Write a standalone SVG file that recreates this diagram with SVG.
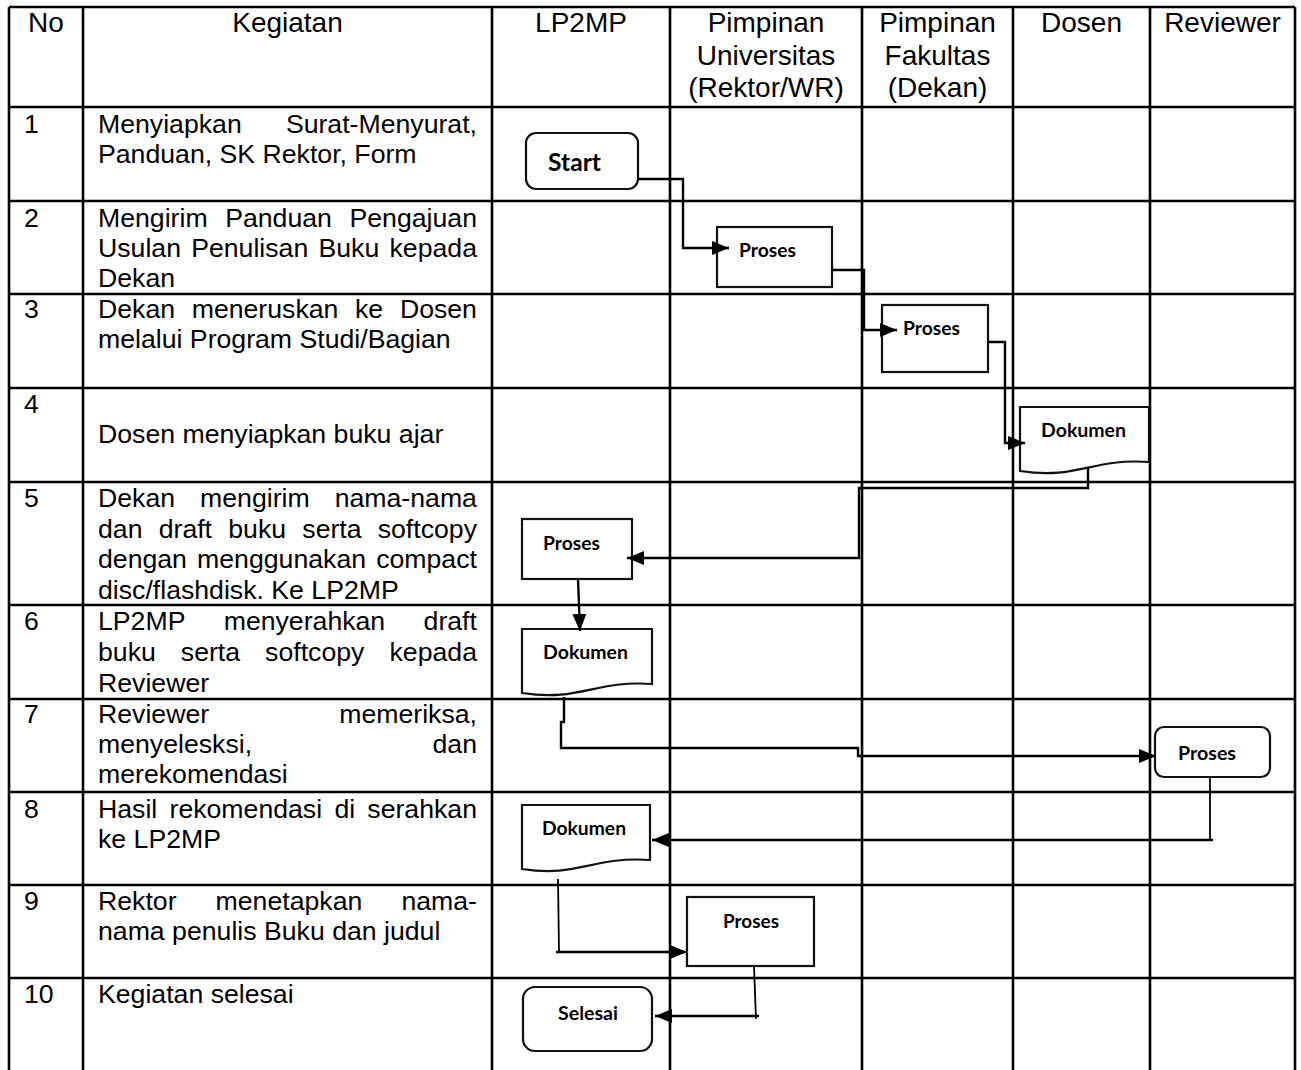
<svg xmlns="http://www.w3.org/2000/svg" width="1301" height="1070" viewBox="0 0 1301 1070">
<style>
.grid{stroke:#000;stroke-width:2.6;fill:none}
.hd{font-family:"Liberation Sans",Arial,sans-serif;font-size:28px;fill:#000;text-anchor:middle}
.tx{font-family:"Liberation Sans",Arial,sans-serif;font-size:26.67px;fill:#000}
.end{text-anchor:end}
.shape{fill:#fff;stroke:#111;stroke-width:2.2}
.lbl{font-family:Lato,"Open Sans",sans-serif;font-weight:bold;font-size:19.5px;fill:#000}
.conn{fill:none;stroke:#000;stroke-width:2.4}
</style>
<defs>
<marker id="arr" markerUnits="userSpaceOnUse" viewBox="0 0 17 14" markerWidth="17" markerHeight="14" refX="17" refY="7" orient="auto">
<path d="M0,0 L17,7 L0,14 z" fill="#000"/>
</marker>
</defs>
<rect width="1301" height="1070" fill="#fff"/>
<g id="table">
<path class="grid" d="M9,7 H1295 M9,107 H1295 M9,201 H1295 M9,294 H1295 M9,388 H1295 M9,482 H1295 M9,605 H1295 M9,699 H1295 M9,792 H1295 M9,885 H1295 M9,978 H1295"/>
<path class="grid" d="M9,7 V1070 M83,7 V1070 M492,7 V1070 M670,7 V1070 M862,7 V1070 M1013,7 V1070 M1150,7 V1070 M1295,7 V1070"/>
</g>
<g id="header">
<text class="hd" x="46" y="32">No</text>
<text class="hd" x="287.5" y="32">Kegiatan</text>
<text class="hd" x="581" y="32">LP2MP</text>
<text class="hd" x="766" y="32">Pimpinan</text>
<text class="hd" x="766" y="65">Universitas</text>
<text class="hd" x="766" y="97">(Rektor/WR)</text>
<text class="hd" x="937.5" y="32">Pimpinan</text>
<text class="hd" x="937.5" y="65">Fakultas</text>
<text class="hd" x="937.5" y="97">(Dekan)</text>
<text class="hd" x="1081.5" y="32">Dosen</text>
<text class="hd" x="1222.5" y="32">Reviewer</text>
</g>
<g id="numbers">
<text class="tx" x="24" y="133">1</text>
<text class="tx" x="24" y="227">2</text>
<text class="tx" x="24" y="318">3</text>
<text class="tx" x="24" y="413">4</text>
<text class="tx" x="24" y="507">5</text>
<text class="tx" x="24" y="630">6</text>
<text class="tx" x="24" y="723">7</text>
<text class="tx" x="24" y="818">8</text>
<text class="tx" x="24" y="910">9</text>
<text class="tx" x="24" y="1003">10</text>
</g>
<g id="activities">
<text class="tx" x="98" y="133">Menyiapkan</text>
<text class="tx end" x="477" y="133">Surat-Menyurat,</text>
<text class="tx" x="98" y="163">Panduan, SK Rektor, Form</text>
<text class="tx" y="227"><tspan x="98">Mengirim</tspan><tspan x="225.2">Panduan</tspan><tspan x="349.5">Pengajuan</tspan></text>
<text class="tx" y="257"><tspan x="98">Usulan</tspan><tspan x="191.2">Penulisan</tspan><tspan x="318.5">Buku</tspan><tspan x="389.5">kepada</tspan></text>
<text class="tx" x="98" y="287">Dekan</text>
<text class="tx" y="318"><tspan x="98">Dekan</tspan><tspan x="191.7">meneruskan</tspan><tspan x="355">ke</tspan><tspan x="399.9">Dosen</tspan></text>
<text class="tx" x="98" y="348">melalui Program Studi/Bagian</text>
<text class="tx" x="98" y="443">Dosen menyiapkan buku ajar</text>
<text class="tx" y="507"><tspan x="98">Dekan</tspan><tspan x="200.1">mengirim</tspan><tspan x="334.7">nama-nama</tspan></text>
<text class="tx" y="538"><tspan x="98">dan</tspan><tspan x="158.7">draft</tspan><tspan x="228.3">buku</tspan><tspan x="302.3">serta</tspan><tspan x="377.7">softcopy</tspan></text>
<text class="tx" y="568"><tspan x="98">dengan</tspan><tspan x="197.1">menggunakan</tspan><tspan x="376.2">compact</tspan></text>
<text class="tx" x="98" y="599">disc/flashdisk. Ke LP2MP</text>
<text class="tx" y="630"><tspan x="98">LP2MP</tspan><tspan x="223.7">menyerahkan</tspan><tspan x="423.6">draft</tspan></text>
<text class="tx" y="661"><tspan x="98">buku</tspan><tspan x="180.8">serta</tspan><tspan x="265.1">softcopy</tspan><tspan x="389.5">kepada</tspan></text>
<text class="tx" x="98" y="692">Reviewer</text>
<text class="tx" x="98" y="723">Reviewer</text>
<text class="tx end" x="477" y="723">memeriksa,</text>
<text class="tx" x="98" y="753">menyelesksi,</text>
<text class="tx end" x="477" y="753">dan</text>
<text class="tx" x="98" y="783">merekomendasi</text>
<text class="tx" y="818"><tspan x="98">Hasil</tspan><tspan x="169.5">rekomendasi</tspan><tspan x="334.4">di</tspan><tspan x="367.3">serahkan</tspan></text>
<text class="tx" x="98" y="848">ke LP2MP</text>
<text class="tx" y="910"><tspan x="98">Rektor</tspan><tspan x="215.6">menetapkan</tspan><tspan x="401.4">nama-</tspan></text>
<text class="tx" x="98" y="940">nama penulis Buku dan judul</text>
<text class="tx" x="98" y="1003">Kegiatan selesai</text>
</g>
<g id="start">
<rect class="shape" x="526" y="133" width="112" height="56" rx="10"/>
<text class="lbl" x="548" y="171" textLength="53" lengthAdjust="spacingAndGlyphs" style="font-size:24px">Start</text>
</g>
<g id="proses1">
<rect class="shape" x="717" y="227" width="115" height="60"/>
<text class="lbl" x="739" y="257" textLength="57" lengthAdjust="spacingAndGlyphs">Proses</text>
</g>
<g id="proses2">
<rect class="shape" x="882" y="305" width="106" height="67"/>
<text class="lbl" x="903" y="335" textLength="57" lengthAdjust="spacingAndGlyphs">Proses</text>
</g>
<g id="dokumen1">
<path class="shape" d="M1020,407 H1149 V462 C1091,458 1078,480 1020,471 Z"/>
<text class="lbl" x="1041" y="437" textLength="85" lengthAdjust="spacingAndGlyphs">Dokumen</text>
</g>
<g id="proses3">
<rect class="shape" x="522" y="519" width="110" height="60"/>
<text class="lbl" x="543" y="550" textLength="57" lengthAdjust="spacingAndGlyphs">Proses</text>
</g>
<g id="dokumen2">
<path class="shape" d="M522,629 H652 V684 C594,680 580,702 522,693 Z"/>
<text class="lbl" x="543" y="659" textLength="85" lengthAdjust="spacingAndGlyphs">Dokumen</text>
</g>
<g id="proses4">
<rect class="shape" x="1155" y="727" width="115" height="50" rx="9"/>
<text class="lbl" x="1178" y="760" textLength="58" lengthAdjust="spacingAndGlyphs">Proses</text>
</g>
<g id="dokumen3">
<path class="shape" d="M522,805 H650 V860 C592,856 578,878 522,869 Z"/>
<text class="lbl" x="542" y="835" textLength="84" lengthAdjust="spacingAndGlyphs">Dokumen</text>
</g>
<g id="proses5">
<rect class="shape" x="687" y="897" width="127" height="69"/>
<text class="lbl" x="723" y="928" textLength="56" lengthAdjust="spacingAndGlyphs">Proses</text>
</g>
<g id="selesai">
<rect class="shape" x="523" y="987" width="129" height="64" rx="12"/>
<text class="lbl" x="558" y="1020" textLength="60" lengthAdjust="spacingAndGlyphs">Selesai</text>
</g>
<g id="connectors">
<path class="conn" d="M638,179 H683 V248 H729" marker-end="url(#arr)"/>
<path class="conn" d="M832,270 H864 V330 H897" marker-end="url(#arr)"/>
<path class="conn" d="M988,342 H1005 V443 H1025" marker-end="url(#arr)"/>
<path class="conn" d="M1088,467 V488 H859 V558 H627" marker-end="url(#arr)"/>
<path class="conn" d="M578,579 L580,631" marker-end="url(#arr)"/>
<path class="conn" d="M564,697 V722 H561 V748 H858 V756 H1156" marker-end="url(#arr)"/>
<path class="conn" d="M1210,777 V840" style="stroke-width:1.8"/>
<path class="conn" d="M1213,840 H652" marker-end="url(#arr)"/>
<path class="conn" d="M558,879 L559,952" style="stroke-width:1.8"/>
<path class="conn" d="M556,952 H687" marker-end="url(#arr)"/>
<path class="conn" d="M754,966 L756,1019" style="stroke-width:1.8"/>
<path class="conn" d="M759,1016 H655" marker-end="url(#arr)"/>
</g>
</svg>
